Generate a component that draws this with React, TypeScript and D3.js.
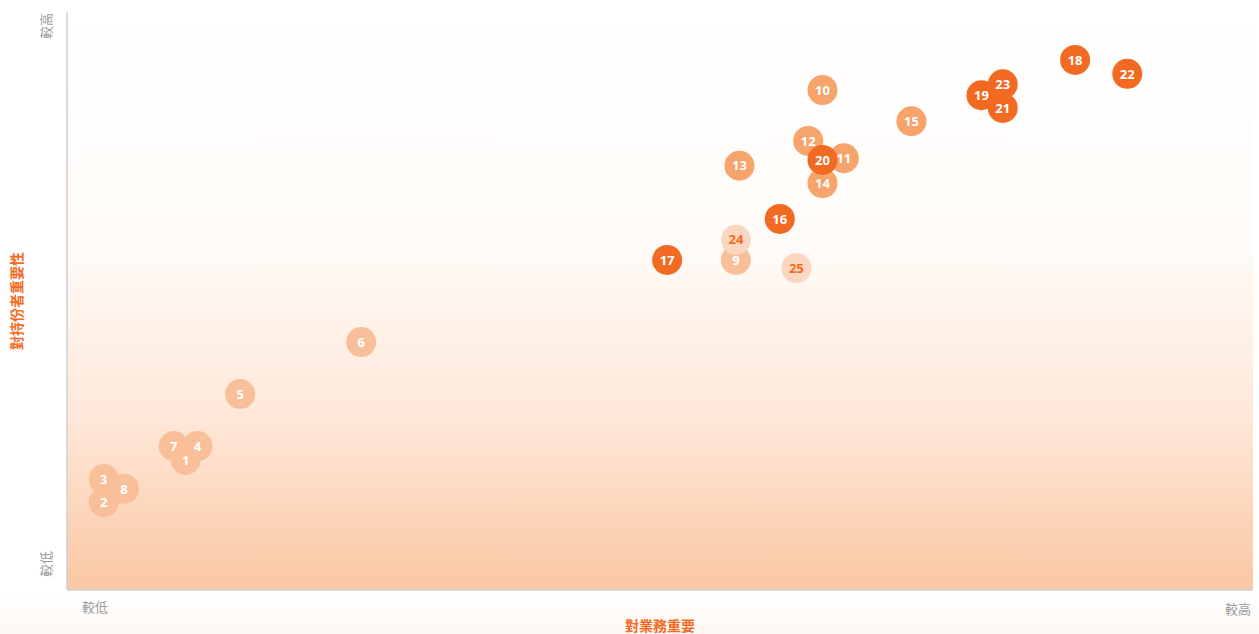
import React from 'react';
import * as d3 from 'd3';

// issue ids, x = importance to business, y = importance to stakeholders (0-100)
const ids = [1, 2, 3, 4, 5, 6, 7, 8, 9, 10, 11, 12, 13, 14, 15, 16, 17, 18, 19, 20, 21, 22, 23, 24, 25];
const xVals = [10.0, 3.1, 3.1, 11.0, 14.6, 24.8, 9.0, 4.8, 56.4, 63.7, 65.5, 62.5, 56.7, 63.7, 71.2, 60.1, 50.6, 85.0, 77.1, 63.7, 78.9, 89.4, 78.9, 56.4, 61.5];
const yVals = [22.5, 15.2, 19.2, 24.9, 33.9, 42.9, 24.9, 17.5, 57.1, 86.5, 74.7, 77.7, 73.4, 70.4, 81.1, 64.2, 57.1, 91.7, 85.6, 74.4, 83.4, 89.3, 87.5, 60.6, 55.7];
// tier: 0 light, 1 medium, 2 strong, 3 pale
const tiers = [0, 0, 0, 0, 0, 0, 0, 0, 0, 1, 1, 1, 1, 1, 1, 2, 2, 2, 2, 2, 2, 2, 2, 3, 3];

const tierFill = ['#f9bf98', '#f6a36c', '#f26a22', '#fcd7c0'];
const tierText = ['#ffffff', '#ffffff', '#ffffff', '#f26a22'];

const W = 1259;
const H = 634;
const margin = { top: 12, right: 6, bottom: 44, left: 67 };

export default function App() {
  const x = d3.scaleLinear().domain([0, 100]).range([margin.left, W - margin.right]);
  const y = d3.scaleLinear().domain([0, 100]).range([H - margin.bottom, margin.top]);
  const font = '"Open Sans", "Noto Sans CJK TC", sans-serif';
  const cjk = '"Noto Sans CJK TC", sans-serif';
  const x0 = x(0), x1 = x(100), y0 = y(0), y1 = y(100);

  return (
    <svg width={W} height={H} style={{ position: 'fixed', left: 0, top: 0 }}>
      <defs>
        <linearGradient id="bg" x1="0" y1="0" x2="0" y2="1">
          <stop offset="0" stopColor="#ffffff" />
          <stop offset="0.4" stopColor="#fffbf8" />
          <stop offset="0.7" stopColor="#fee8d9" />
          <stop offset="1" stopColor="#fac7a3" />
        </linearGradient>
        <linearGradient id="under" x1="0" y1="0" x2="0" y2="1">
          <stop offset="0" stopColor="#ffffff" />
          <stop offset="1" stopColor="#fdf8f4" />
        </linearGradient>
      </defs>
      <rect x={0} y={0} width={W} height={H} fill="#ffffff" />
      <rect x={0} y={y0} width={W} height={H - y0} fill="url(#under)" />
      <rect x={x0} y={y1} width={x1 - x0} height={y0 - y1} fill="url(#bg)" />
      <line x1={x0} x2={x0} y1={y1} y2={y0} stroke="#cfcfcf" strokeWidth={1.5} />
      <line x1={x0} x2={x1} y1={y0} y2={y0} stroke="#cfcfcf" strokeWidth={1.5} />

      {/* axis end labels */}
      <text transform={`translate(51,${y1 + 14}) rotate(-90)`} textAnchor="middle" fontFamily={cjk} fontSize={13} fill="#9a9a9a">較高</text>
      <text transform={`translate(51,${y0 - 26}) rotate(-90)`} textAnchor="middle" fontFamily={cjk} fontSize={13} fill="#9a9a9a">較低</text>
      <text x={x0 + 28} y={y0 + 22} textAnchor="middle" fontFamily={cjk} fontSize={13} fill="#9a9a9a">較低</text>
      <text x={x1 - 15} y={y0 + 24} textAnchor="middle" fontFamily={cjk} fontSize={13} fill="#9a9a9a">較高</text>

      {/* axis titles */}
      <text x={660} y={H - 3} textAnchor="middle" fontFamily={cjk} fontSize={14} fontWeight={600} fill="#f26a22">對業務重要</text>
      <text transform={`translate(22,${(y0 + y1) / 2}) rotate(-90)`} textAnchor="middle" fontFamily={cjk} fontSize={14} fontWeight={600} fill="#f26a22">對持份者重要性</text>

      {ids.map((id, i) => (
        <circle key={'c' + id} cx={x(xVals[i])} cy={y(yVals[i])} r={15} fill={tierFill[tiers[i]]} />
      ))}
      {ids.map((id, i) => (
        <text key={'t' + id} x={x(xVals[i])} y={y(yVals[i])} textAnchor="middle" dy="0.36em" fontFamily={font} fontSize={13} fontWeight={700} fill={tierText[tiers[i]]}>{id}</text>
      ))}
    </svg>
  );
}
